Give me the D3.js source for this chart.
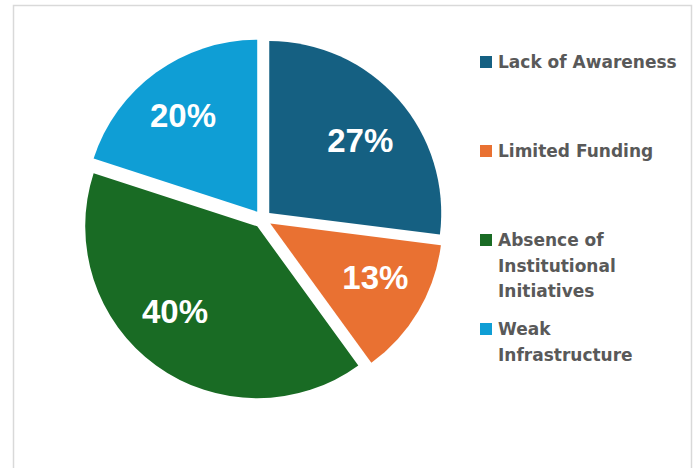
<!DOCTYPE html>
<html>
<head>
<meta charset="utf-8">
<script src="https://cdn.jsdelivr.net/npm/d3@7"></script>
<style>
  html, body { margin: 0; padding: 0; background: #ffffff; }
  svg { display: block; }
</style>
</head>
<body>
<svg id="chart" width="696" height="468"></svg>
<script>
// ---- data ----
const categories = ["Lack of Awareness", "Limited Funding", "Absence of Institutional Initiatives", "Weak Infrastructure"];
const values = [27, 13, 40, 20];
const colors = ["#156082", "#E97132", "#196B24", "#0F9ED5"];
const legendLines = [["Lack of Awareness"], ["Limited Funding"], ["Absence of", "Institutional", "Initiatives"], ["Weak", "Infrastructure"]];

// ---- layout ----
const W = 696, H = 468;
const cx = 262.5, cy = 219, R = 172, explode = 9;
// label placement nudges (layout only, px)
const labelNudge = [[2, 5.5], [3, -7], [-12.5, -11.5], [-4.5, -1]];

const svg = d3.select("#chart");

// chart frame
svg.append("rect")
  .attr("x", 13.5).attr("y", 5.5)
  .attr("width", 678).attr("height", 480)
  .attr("fill", "#ffffff")
  .attr("stroke", "#d9d9d9")
  .attr("stroke-width", 1.5);

const data = categories.map((c, i) => ({ name: c, value: values[i], color: colors[i] }));

const pie = d3.pie().value(d => d.value).sort(null);
const arcs = pie(data);

const arc = d3.arc().innerRadius(0).outerRadius(R);
const labelArc = d3.arc().innerRadius(R * 0.69).outerRadius(R * 0.69);

const g = svg.append("g").attr("transform", `translate(${cx},${cy})`);

const slices = g.selectAll("g.slice").data(arcs).enter().append("g")
  .attr("class", "slice")
  .attr("transform", d => {
    const a = (d.startAngle + d.endAngle) / 2;
    return `translate(${explode * Math.sin(a)},${-explode * Math.cos(a)})`;
  });

slices.append("path")
  .attr("d", arc)
  .attr("fill", d => d.data.color);

slices.append("text")
  .attr("transform", (d, i) => {
    const c = labelArc.centroid(d);
    return `translate(${c[0] + labelNudge[i][0]},${c[1] + labelNudge[i][1]})`;
  })
  .attr("text-anchor", "middle")
  .attr("dy", "0.36em")
  .attr("fill", "#ffffff")
  .attr("font-family", "'Liberation Sans', Arial, sans-serif")
  .attr("font-weight", "bold")
  .attr("font-size", 33)
  .text(d => Math.round(d.data.value) + "%");

// ---- legend ----
const legend = svg.append("g");
const item = legend.selectAll("g.item").data(data).enter().append("g")
  .attr("class", "item")
  .attr("transform", (d, i) => `translate(480,${62 + i * 89})`);

item.append("rect")
  .attr("x", 0).attr("y", -6)
  .attr("width", 12).attr("height", 12)
  .attr("fill", d => d.color);

item.append("text")
  .attr("x", 18)
  .attr("fill", "#595959")
  .attr("font-family", "'DejaVu Sans', sans-serif")
  .attr("font-weight", "bold")
  .attr("font-size", 17)
  .selectAll("tspan")
  .data((d, i) => legendLines[i])
  .enter().append("tspan")
  .attr("x", 18)
  .attr("y", (l, j) => j * 25.5)
  .attr("dy", "0.36em")
  .text(l => l);
</script>
</body>
</html>
